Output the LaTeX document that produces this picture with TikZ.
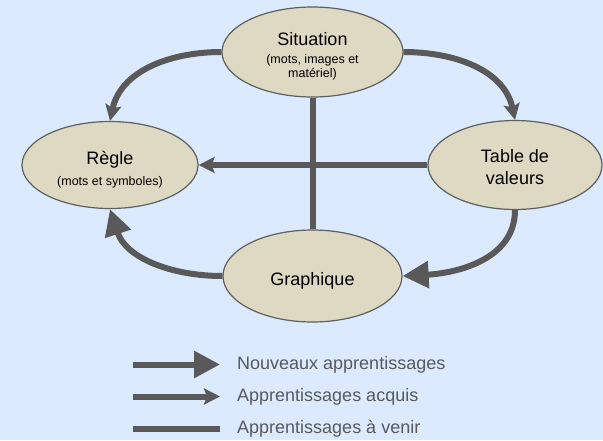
\documentclass[tikz,border=0pt]{standalone}
\usepackage{fontspec}
\setmainfont{Liberation Sans}
\usetikzlibrary{shapes.geometric,arrows.meta}
\definecolor{bgblue}{HTML}{DBEAFE}
\definecolor{tanfill}{HTML}{DDD9C3}
\definecolor{conn}{HTML}{595959}
\definecolor{edgegray}{HTML}{5F5F5F}
\newcommand{\dgbig}{\fontsize{18}{20.7}\selectfont}
\newcommand{\dgsmall}{\fontsize{12.5}{14.4}\selectfont}
\newcommand{\dglift}[1]{\rule{0pt}{#1}}
\begin{document}
\begin{tikzpicture}[x=1pt,y=1pt,
  bubble/.style={ellipse, draw=edgegray, line width=1.2pt, fill=tanfill, inner sep=0pt,
    align=center, font=\dgbig, text=black},
  link/.style={draw=conn, line width=6pt},
  newarr/.style={link, -{Triangle[length=26pt,width=26pt]}},
  oldarr/.style={link, -{Stealth[length=16pt,width=16pt,inset=3pt]}},
  legtext/.style={anchor=west, text=conn, font=\dgbig, inner sep=0pt}
]
\fill[bgblue] (0,0) rectangle (603,-440);
\useasboundingbox (0,0) rectangle (603,-440);

\node[bubble, minimum width=181pt, minimum height=90pt] (sit) at (312.5,-52)
  {\dglift{22pt}Situation\\[-2.5pt]\dgsmall (mots, images et\\[-7pt]\dgsmall matériel)};
\node[bubble, minimum width=176pt, minimum height=87pt] (regle) at (110,-165)
  {\dglift{23pt}Règle\\[0pt]\dgsmall (mots et symboles)};
\node[bubble, minimum width=174pt, minimum height=89pt] (tab) at (515,-165)
  {\dglift{16.5pt}Table de\\[1.3pt]valeurs};
\node[bubble, minimum width=179pt, minimum height=92pt] (graph) at (312.5,-276)
  {\dglift{23pt}Graphique};

% connectors
\draw[link] (sit.south) -- (graph.north);
\draw[oldarr] (tab.west) -- (regle.east);
\draw[oldarr] (sit.west) to[out=180,in=78] (regle.north);
\draw[oldarr] (sit.east) to[out=0,in=102] (tab.north);
\draw[newarr] (tab.south) to[out=-90,in=3] (graph.east);
\draw[newarr] (graph.west) to[out=180,in=-72] (regle.south);

% legend
\coordinate (l1a) at (133,-364.5);
\coordinate (l1b) at (220,-364.5);
\coordinate (l2a) at (133,-396.5);
\coordinate (l2b) at (220,-396.5);
\coordinate (l3a) at (133,-428.5);
\coordinate (l3b) at (220,-428.5);
\draw[newarr] (l1a) -- (l1b);
\draw[oldarr] (l2a) -- (l2b);
\draw[link] (l3a) -- (l3b);
\node[legtext] (t1) at (237,-365) {Nouveaux apprentissages};
\node[legtext] (t2) at (237,-397) {Apprentissages acquis};
\node[legtext] (t3) at (237,-429) {Apprentissages à venir};
\end{tikzpicture}
\end{document}
